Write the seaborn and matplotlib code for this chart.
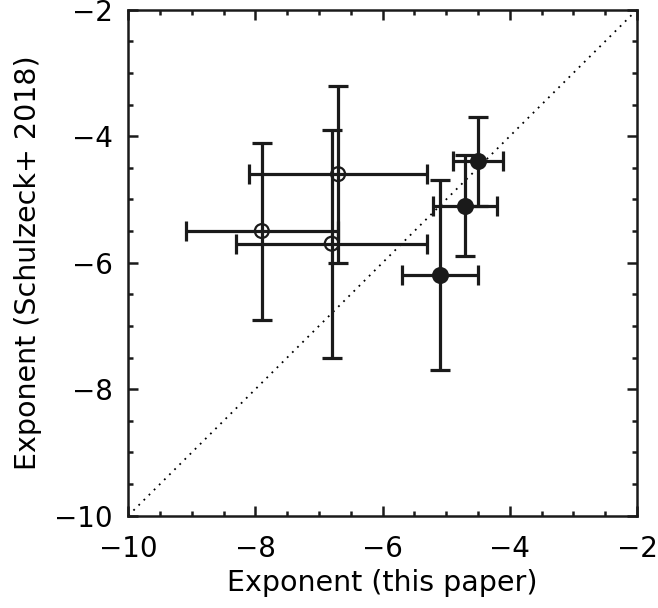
import matplotlib
matplotlib.use("Agg")
import matplotlib.pyplot as plt
import seaborn as sns
import pandas as pd
from matplotlib.ticker import MultipleLocator

# open circles
open_x = [-7.9, -6.7, -6.8]
open_xerr = [1.2, 1.4, 1.5]
open_y = [-5.5, -4.6, -5.7]
open_yerr = [1.4, 1.4, 1.8]

# filled circles
fill_x = [-4.5, -4.7, -5.1]
fill_xerr = [0.4, 0.5, 0.6]
fill_y = [-4.4, -5.1, -6.2]
fill_yerr = [0.7, 0.8, 1.5]

lims = [-10, -2]
ticks = [-10, -8, -6, -4, -2]

sns.set_style("ticks")
plt.rcParams['font.family'] = ['DejaVu Sans']
plt.rcParams['text.color'] = 'black'
plt.rcParams['axes.labelcolor'] = 'black'
plt.rcParams['xtick.color'] = 'black'
plt.rcParams['ytick.color'] = 'black'

ink = "#1a1a1a"

fig = plt.figure(figsize=(6.58, 6.08), dpi=100)
ax = fig.add_axes([0.195, 0.152, 0.773, 0.832])

ax.plot(lims, lims, linestyle=(0, (1, 3)), color="black", lw=1.3, zorder=1)

ebkw = dict(fmt="none", ecolor=ink, elinewidth=2.3, capsize=7, capthick=2.3, zorder=2)
ax.errorbar(open_x, open_y, xerr=open_xerr, yerr=open_yerr, **ebkw)
ax.errorbar(fill_x, fill_y, xerr=fill_xerr, yerr=fill_yerr, **ebkw)

df_open = pd.DataFrame({"x": open_x, "y": open_y})
df_fill = pd.DataFrame({"x": fill_x, "y": fill_y})
sns.scatterplot(data=df_open, x="x", y="y", ax=ax, s=100, facecolor="none",
                edgecolor=ink, linewidth=1.6, zorder=3)
sns.scatterplot(data=df_fill, x="x", y="y", ax=ax, s=150, color=ink,
                edgecolor=ink, linewidth=0, zorder=3)

ax.set_xlim(lims)
ax.set_ylim(lims)
ax.set_xticks(ticks)
ax.set_yticks(ticks)
ax.xaxis.set_minor_locator(MultipleLocator(0.5))
ax.yaxis.set_minor_locator(MultipleLocator(0.5))
ax.tick_params(which="both", direction="in", top=True, right=True, width=1.8, color=ink)
ax.tick_params(which="major", length=7, labelsize=20)
ax.tick_params(axis="x", which="major", pad=14)
ax.tick_params(axis="y", which="major", pad=11)
ax.tick_params(which="minor", length=3.5)
for s in ax.spines.values():
    s.set_linewidth(1.8)
    s.set_color(ink)

ax.set_xlabel("Exponent (this paper)", fontsize=20.5, labelpad=4)
ax.set_ylabel("Exponent (Schulzeck+ 2018)", fontsize=20.5, labelpad=9)

fig.savefig("out.png", dpi=100)
